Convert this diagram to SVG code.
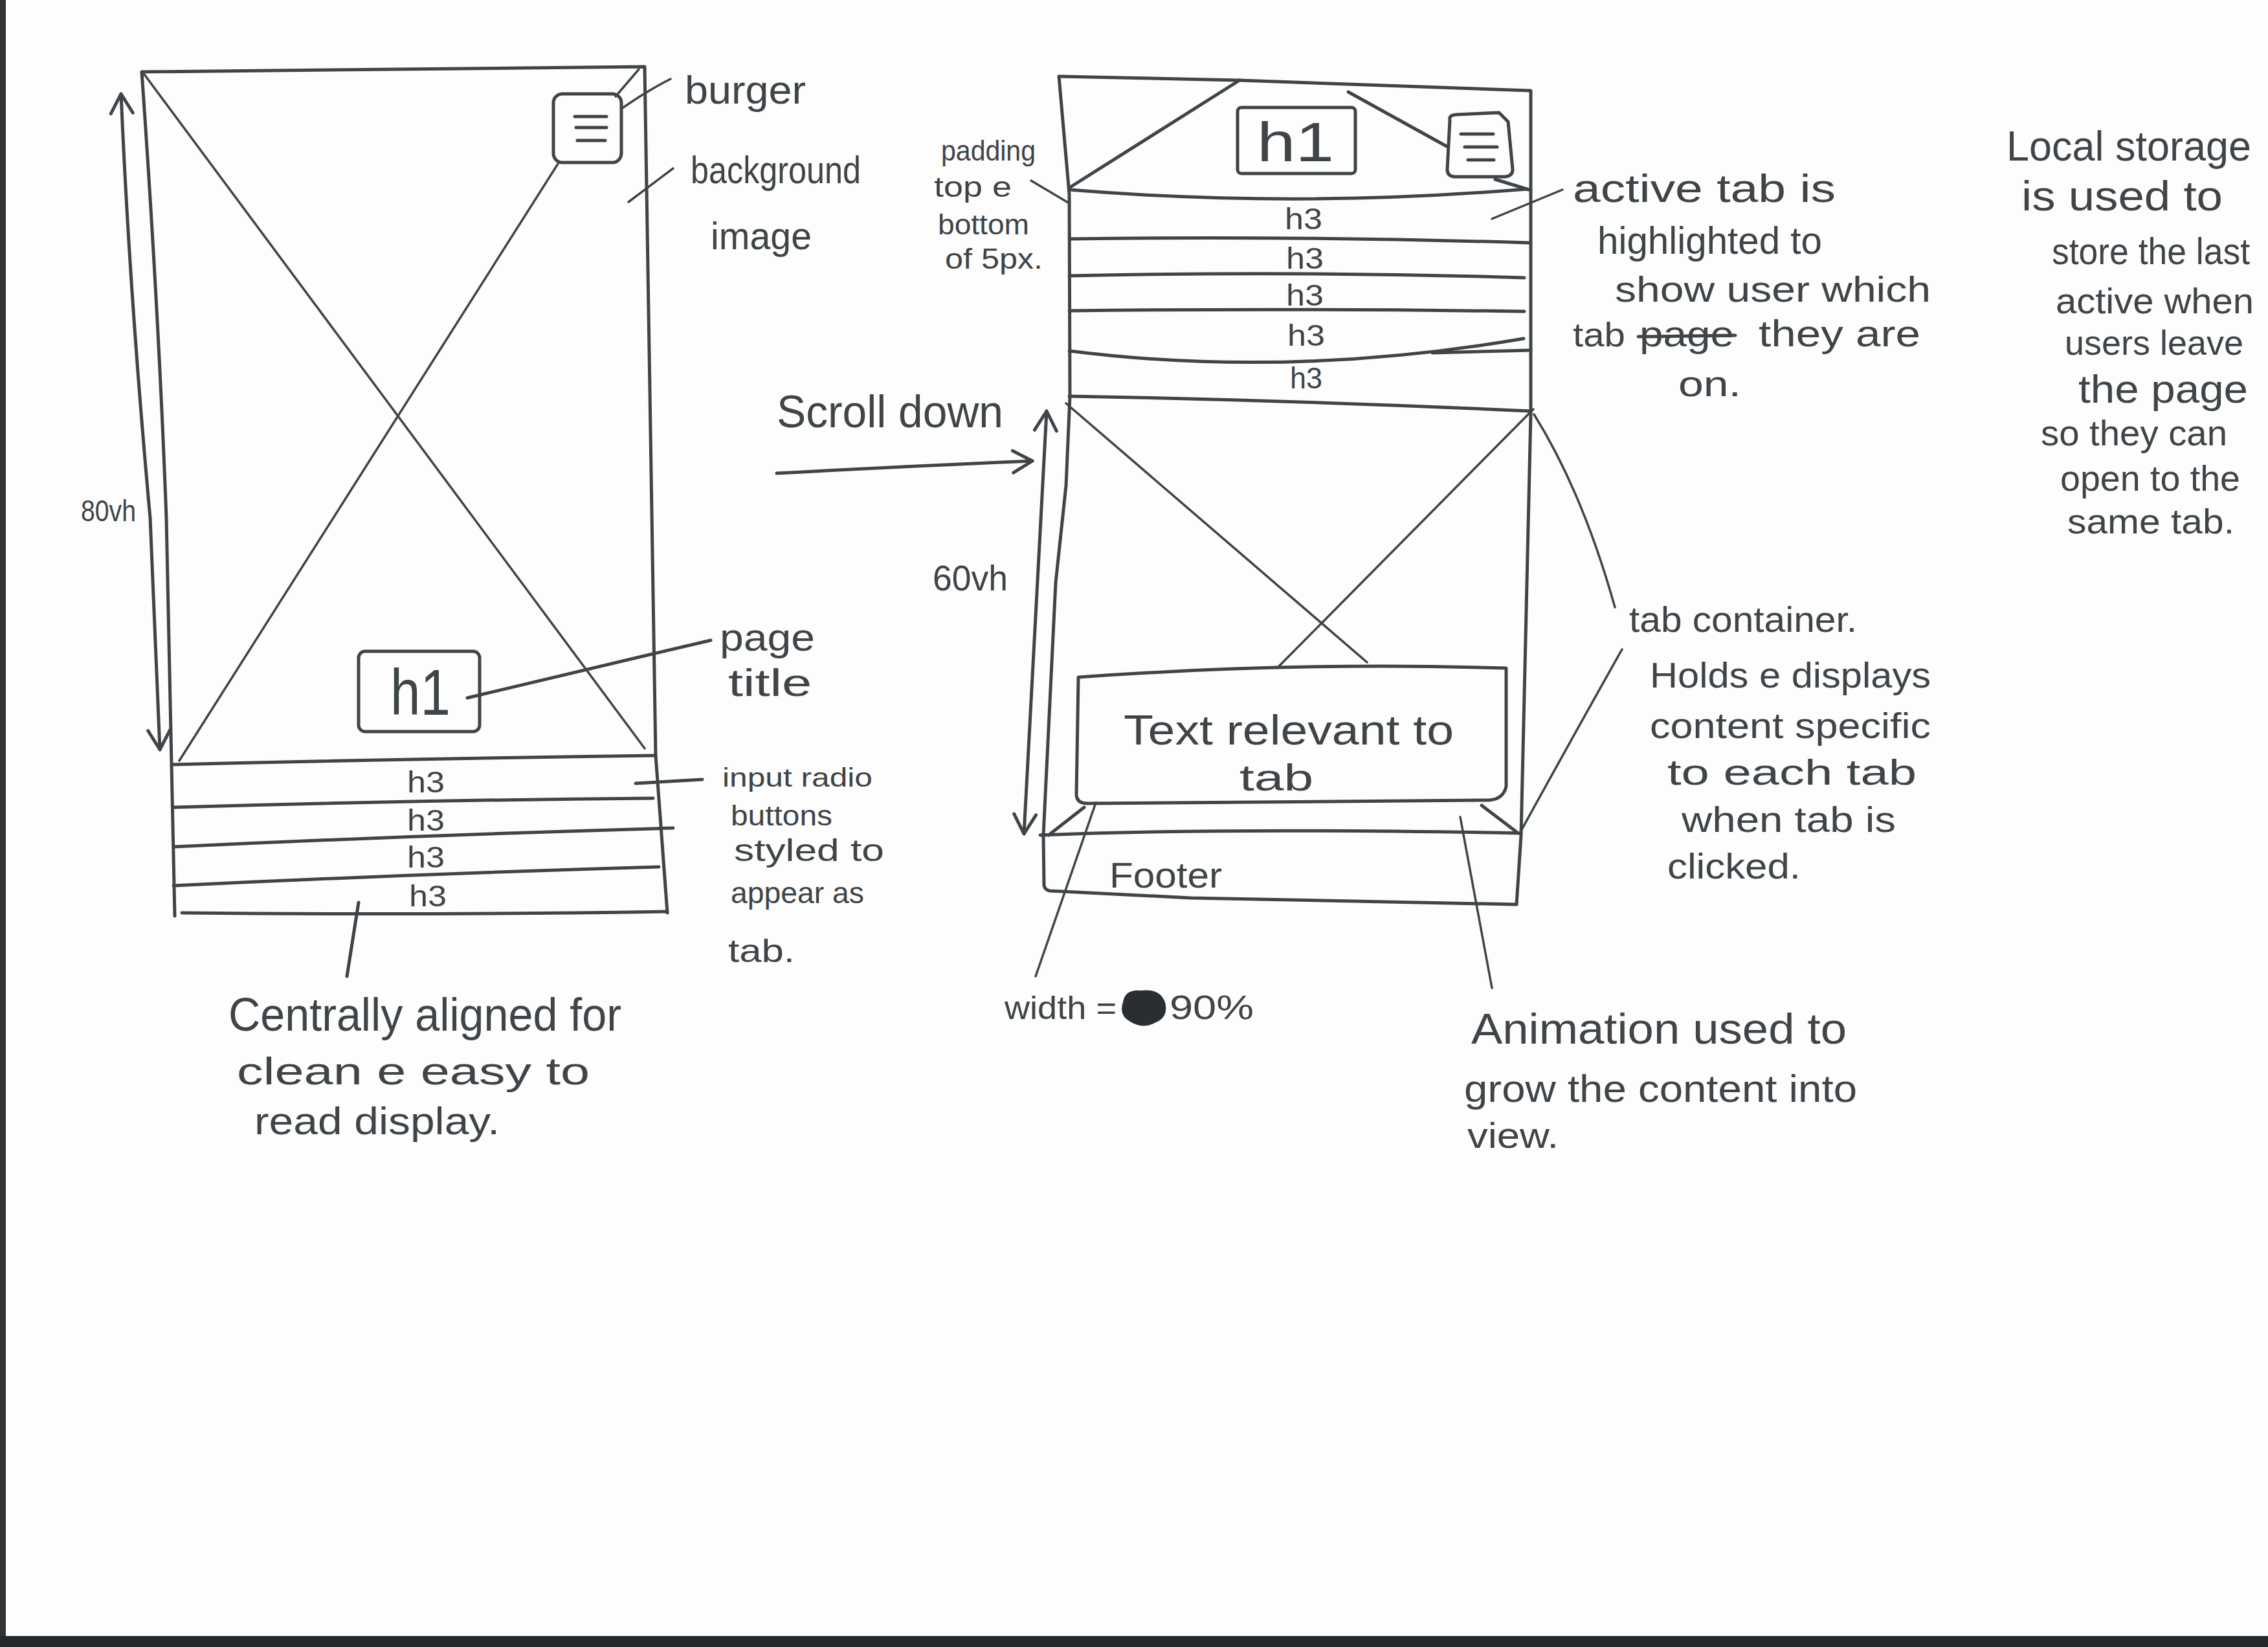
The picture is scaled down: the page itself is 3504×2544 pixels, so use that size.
<svg xmlns="http://www.w3.org/2000/svg" width="3504" height="2544" viewBox="0 0 3504 2544">
<defs>
<style>
.ink{stroke:#3e4447;stroke-width:5;fill:none;stroke-linecap:round;stroke-linejoin:round}
.thin{stroke-width:3.5}
.t{font-family:"Liberation Sans",Arial,sans-serif;fill:#3e4447}
</style>
<marker id="arr" viewBox="0 0 40 40" refX="37" refY="20" markerWidth="40" markerHeight="40" orient="auto-start-reverse" markerUnits="userSpaceOnUse">
<path d="M7,3 L37,20 L7,37" fill="none" stroke="#3e4447" stroke-width="5" stroke-linecap="round" stroke-linejoin="round"/>
</marker>
</defs>
<rect x="0" y="0" width="3504" height="2544" fill="#fdfdfd"/>
<rect x="0" y="0" width="9" height="2544" fill="#2e3234"/>
<rect x="0" y="2527" width="3504" height="17" fill="#24282a"/>

<g id="left-page">
<path class="ink" d="M270,1415 L265,1180 L257,800 Q245,480 219,111 L996,103 L1013,1167 L1031,1410"/>
<path class="ink thin" d="M223,115 L996,1156"/>
<path class="ink thin" d="M862,253 L277,1175"/>
<g id="left-burger">
<rect class="ink" x="855" y="145" width="105" height="106" rx="14"/>
<path class="ink" d="M888,180 L937,180 M890,197 L937,197 M892,217 L935,217"/>
<path class="ink thin" d="M951,149 L987,107"/>
</g>
<g id="left-h1">
<rect class="ink" x="554" y="1006" width="187" height="124" rx="10"/>
<text class="t" x="603" y="1104" font-size="100" textLength="93" lengthAdjust="spacingAndGlyphs">h1</text>
</g>
<g id="left-tabs">
<path class="ink" d="M265,1181 Q640,1172 1013,1167"/>
<path class="ink" d="M268,1247 Q640,1236 1009,1233"/>
<path class="ink" d="M268,1308 Q650,1290 1040,1279"/>
<path class="ink" d="M268,1368 Q640,1350 1018,1339"/>
<path class="ink" d="M281,1410 Q640,1414 1031,1408"/>
<text class="t" x="629" y="1224" font-size="46" textLength="58" lengthAdjust="spacingAndGlyphs">h3</text>
<text class="t" x="629" y="1283" font-size="46" textLength="58" lengthAdjust="spacingAndGlyphs">h3</text>
<text class="t" x="629" y="1340" font-size="46" textLength="58" lengthAdjust="spacingAndGlyphs">h3</text>
<text class="t" x="632" y="1400" font-size="46" textLength="58" lengthAdjust="spacingAndGlyphs">h3</text>
</g>
</g>

<g id="left-notes">
<text class="t" x="1058" y="160" font-size="62" textLength="187" lengthAdjust="spacingAndGlyphs">burger</text>
<text class="t" x="1067" y="283" font-size="60" textLength="263" lengthAdjust="spacingAndGlyphs">background</text>
<text class="t" x="1098" y="385" font-size="60" textLength="156" lengthAdjust="spacingAndGlyphs">image</text>
<text class="t" x="125" y="805" font-size="46" textLength="85" lengthAdjust="spacingAndGlyphs">80vh</text>
<text class="t" x="1112" y="1005" font-size="60" textLength="147" lengthAdjust="spacingAndGlyphs">page</text>
<text class="t" x="1125" y="1075" font-size="60" textLength="129" lengthAdjust="spacingAndGlyphs">title</text>
<text class="t" x="1116" y="1215" font-size="40" textLength="232" lengthAdjust="spacingAndGlyphs">input radio</text>
<text class="t" x="1129" y="1275" font-size="44" textLength="157" lengthAdjust="spacingAndGlyphs">buttons</text>
<text class="t" x="1134" y="1330" font-size="48" textLength="232" lengthAdjust="spacingAndGlyphs">styled to</text>
<text class="t" x="1129" y="1395" font-size="46" textLength="206" lengthAdjust="spacingAndGlyphs">appear as</text>
<text class="t" x="1125" y="1486" font-size="50" textLength="103" lengthAdjust="spacingAndGlyphs">tab.</text>
<text class="t" x="353" y="1592" font-size="72" textLength="607" lengthAdjust="spacingAndGlyphs">Centrally aligned for</text>
<text class="t" x="366" y="1675" font-size="60" textLength="545" lengthAdjust="spacingAndGlyphs">clean e easy to</text>
<text class="t" x="393" y="1752" font-size="60" textLength="379" lengthAdjust="spacingAndGlyphs">read display.</text>
<text class="t" x="1200" y="660" font-size="70" textLength="350" lengthAdjust="spacingAndGlyphs">Scroll down</text>
</g>

<g id="tab-page">
<path class="ink" d="M1636,118 L1915,124 L2365,140 L2365,640 L2350,1290 L2343,1397"/>
<path class="ink" d="M1636,118 L1652,300 L1653,612 L1647,750 L1631,900 L1612,1290 L1613,1368 Q1615,1375 1622,1376 L1840,1387 L2343,1397"/>
<path class="ink" d="M1607,1290 Q1900,1278 2349,1287"/>
<path class="ink" d="M1915,124 L1652,290"/>
<path class="ink" d="M2083,142 L2235,226"/>
<g id="tab-h1">
<rect class="ink" x="1912" y="166" width="182" height="102" rx="6"/>
<text class="t" x="1942" y="249" font-size="86" textLength="119" lengthAdjust="spacingAndGlyphs">h1</text>
</g>
<g id="tab-burger">
<path class="ink" d="M2240,185 Q2238,178 2250,177 L2316,174 L2330,188 L2337,262 Q2337,272 2325,273 L2247,273 Q2236,272 2236,262 Z"/>
<path class="ink" d="M2257,207 L2307,207 M2263,227 L2313,227 M2268,247 L2308,247"/>
</g>
<g id="tab-list">
<path class="ink" d="M1652,293 Q2000,322 2359,292"/>
<path class="ink" d="M1652,369 Q2000,364 2362,375"/>
<path class="ink" d="M1652,426 Q2000,418 2355,429"/>
<path class="ink" d="M1652,480 Q2000,476 2355,481"/>
<path class="ink" d="M1652,542 Q1990,585 2354,523"/>
<path class="ink" stroke-width="9" d="M2213,545 L2365,541"/>
<path class="ink" d="M1652,612 Q2000,618 2365,635"/>
<text class="t" x="1985" y="354" font-size="46" textLength="58" lengthAdjust="spacingAndGlyphs">h3</text>
<text class="t" x="1987" y="415" font-size="46" textLength="58" lengthAdjust="spacingAndGlyphs">h3</text>
<text class="t" x="1987" y="472" font-size="46" textLength="58" lengthAdjust="spacingAndGlyphs">h3</text>
<text class="t" x="1989" y="534" font-size="46" textLength="58" lengthAdjust="spacingAndGlyphs">h3</text>
<text class="t" x="1993" y="600" font-size="46" textLength="50" lengthAdjust="spacingAndGlyphs">h3</text>
</g>
<path class="ink thin" d="M1647,623 L2112,1023"/>
<path class="ink thin" d="M2369,632 L1973,1032"/>
<g id="tab-content">
<path class="ink" d="M1666,1046 Q2000,1022 2327,1032 L2327,1215 Q2322,1235 2300,1236 L1680,1241 Q1664,1241 1663,1228 Z"/>
<text class="t" x="1736" y="1150" font-size="64" textLength="510" lengthAdjust="spacingAndGlyphs">Text relevant to</text>
<text class="t" x="1915" y="1221" font-size="58" textLength="114" lengthAdjust="spacingAndGlyphs">tab</text>
</g>
<path class="ink" d="M1675,1247 L1620,1290"/>
<path class="ink" d="M2289,1244 L2343,1285"/>
<g id="tab-footer">
<text class="t" x="1714" y="1371" font-size="56" textLength="174" lengthAdjust="spacingAndGlyphs">Footer</text>
</g>
</g>

<g id="tab-notes">
<text class="t" x="1454" y="248" font-size="44" textLength="146" lengthAdjust="spacingAndGlyphs">padding</text>
<text class="t" x="1443" y="304" font-size="44" textLength="120" lengthAdjust="spacingAndGlyphs">top e</text>
<text class="t" x="1449" y="362" font-size="44" textLength="141" lengthAdjust="spacingAndGlyphs">bottom</text>
<text class="t" x="1460" y="415" font-size="44" textLength="151" lengthAdjust="spacingAndGlyphs">of 5px.</text>
<text class="t" x="2430" y="312" font-size="62" textLength="406" lengthAdjust="spacingAndGlyphs">active tab is</text>
<text class="t" x="2468" y="392" font-size="60" textLength="347" lengthAdjust="spacingAndGlyphs">highlighted to</text>
<text class="t" x="2495" y="466" font-size="56" textLength="488" lengthAdjust="spacingAndGlyphs">show user which</text>
<text class="t" x="2430" y="535" font-size="52" textLength="81" lengthAdjust="spacingAndGlyphs">tab</text>
<text class="t" x="2533" y="535" font-size="56" textLength="146" lengthAdjust="spacingAndGlyphs">page</text>
<path class="ink" stroke-width="7" d="M2531,520 L2681,518"/>
<text class="t" x="2717" y="535" font-size="58" textLength="250" lengthAdjust="spacingAndGlyphs">they are</text>
<text class="t" x="2593" y="612" font-size="56" textLength="97" lengthAdjust="spacingAndGlyphs">on.</text>
<text class="t" x="1441" y="912" font-size="56" textLength="116" lengthAdjust="spacingAndGlyphs">60vh</text>
<text class="t" x="2517" y="976" font-size="56" textLength="352" lengthAdjust="spacingAndGlyphs">tab container.</text>
<text class="t" x="2549" y="1062" font-size="56" textLength="434" lengthAdjust="spacingAndGlyphs">Holds e displays</text>
<text class="t" x="2549" y="1140" font-size="56" textLength="434" lengthAdjust="spacingAndGlyphs">content specific</text>
<text class="t" x="2576" y="1212" font-size="56" textLength="385" lengthAdjust="spacingAndGlyphs">to each tab</text>
<text class="t" x="2598" y="1285" font-size="56" textLength="331" lengthAdjust="spacingAndGlyphs">when tab is</text>
<text class="t" x="2576" y="1357" font-size="56" textLength="206" lengthAdjust="spacingAndGlyphs">clicked.</text>
<text class="t" x="1552" y="1574" font-size="50" textLength="173" lengthAdjust="spacingAndGlyphs">width =</text>
<path d="M1735,1548 Q1738,1528 1762,1530 Q1792,1526 1800,1548 Q1806,1572 1784,1580 Q1766,1590 1746,1578 Q1728,1568 1735,1548 Z" fill="#2a2e30"/>
<text class="t" x="1807" y="1574" font-size="52" textLength="130" lengthAdjust="spacingAndGlyphs">90%</text>
<text class="t" x="2273" y="1612" font-size="66" textLength="580" lengthAdjust="spacingAndGlyphs">Animation used to</text>
<text class="t" x="2262" y="1702" font-size="60" textLength="607" lengthAdjust="spacingAndGlyphs">grow the content into</text>
<text class="t" x="2267" y="1773" font-size="56" textLength="141" lengthAdjust="spacingAndGlyphs">view.</text>
</g>

<g id="storage-note">
<text class="t" x="3100" y="248" font-size="64" textLength="378" lengthAdjust="spacingAndGlyphs">Local storage</text>
<text class="t" x="3123" y="325" font-size="64" textLength="311" lengthAdjust="spacingAndGlyphs">is used to</text>
<text class="t" x="3170" y="408" font-size="58" textLength="306" lengthAdjust="spacingAndGlyphs">store the last</text>
<text class="t" x="3176" y="484" font-size="56" textLength="306" lengthAdjust="spacingAndGlyphs">active when</text>
<text class="t" x="3190" y="548" font-size="54" textLength="276" lengthAdjust="spacingAndGlyphs">users leave</text>
<text class="t" x="3211" y="622" font-size="62" textLength="262" lengthAdjust="spacingAndGlyphs">the page</text>
<text class="t" x="3153" y="688" font-size="56" textLength="288" lengthAdjust="spacingAndGlyphs">so they can</text>
<text class="t" x="3183" y="758" font-size="56" textLength="278" lengthAdjust="spacingAndGlyphs">open to the</text>
<text class="t" x="3194" y="824" font-size="54" textLength="258" lengthAdjust="spacingAndGlyphs">same tab.</text>
</g>

<g id="connectors">
<path class="ink" d="M187,145 Q200,450 232,800 L247,1158" marker-start="url(#arr)" marker-end="url(#arr)"/>
<path class="ink thin" d="M960,168 Q1000,140 1036,122"/>
<path class="ink thin" d="M971,312 L1040,260"/>
<path class="ink" d="M722,1078 L1000,1012 L1098,989"/>
<path class="ink" d="M982,1210 L1085,1204"/>
<path class="ink" d="M554,1394 L536,1508"/>
<path class="ink" d="M1200,731 Q1400,720 1595,712" marker-end="url(#arr)"/>
<path class="ink" d="M1617,635 L1582,1288" marker-start="url(#arr)" marker-end="url(#arr)"/>
<path class="ink thin" d="M1593,279 L1652,314"/>
<path class="ink" d="M2310,277 L2362,293"/>
<path class="ink thin" d="M2305,338 L2414,293"/>
<path class="ink thin" d="M2370,640 Q2445,760 2495,938"/>
<path class="ink thin" d="M2349,1285 Q2440,1120 2506,1003"/>
<path class="ink thin" d="M1693,1240 L1600,1508"/>
<path class="ink thin" d="M2256,1262 L2305,1526"/>
</g>
</svg>
